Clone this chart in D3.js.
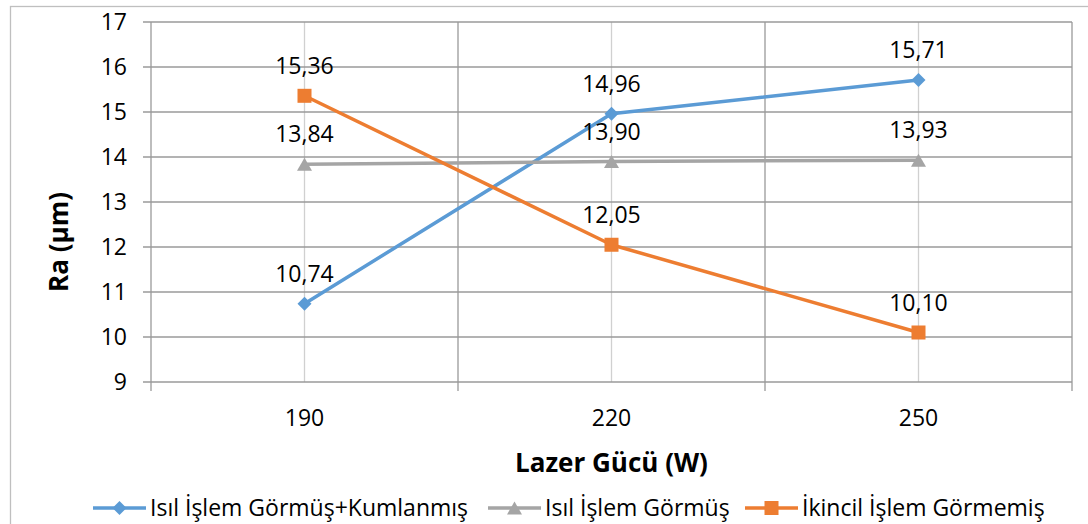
<!DOCTYPE html>
<html>
<head>
<meta charset="utf-8">
<script src="https://cdn.jsdelivr.net/npm/d3@7"></script>
<style>
  body { margin: 0; background: #fff; }
  text { font-family: "Open Sans", "Noto Sans", sans-serif; fill: #000; }
</style>
</head>
<body>
<div id="chart"></div>
<script>
// data
const categories = ["190", "220", "250"];
const seriesNames = ["Isıl İşlem Görmüş+Kumlanmış", "Isıl İşlem Görmüş", "İkincil İşlem Görmemiş"];
const kumlanmis = [10.74, 14.96, 15.71];
const islemGormus = [13.84, 13.90, 13.93];
const islemGormemis = [15.36, 12.05, 10.10];
const yTicks = [9, 10, 11, 12, 13, 14, 15, 16, 17];

const series = [
    { name: seriesNames[0], values: kumlanmis, color: "#5B9BD5", marker: "diamond" },
    { name: seriesNames[1], values: islemGormus, color: "#A5A5A5", marker: "triangle" },
    { name: seriesNames[2], values: islemGormemis, color: "#ED7D31", marker: "square" }
];

const W = 1088, H = 524;
const margin = { top: 22, right: 16, bottom: 142, left: 151 };
const width = W - margin.left - margin.right;
const height = H - margin.top - margin.bottom;

const svg = d3.select("#chart").append("svg")
    .attr("width", W)
    .attr("height", H);

// outer frame
svg.append("rect")
    .attr("x", 10.5).attr("y", 6.5)
    .attr("width", W).attr("height", H)
    .attr("fill", "none")
    .attr("stroke", "#bfbfbf")
    .attr("stroke-width", 1.3);

const g = svg.append("g").attr("transform", `translate(${margin.left},${margin.top})`);

const x = d3.scaleBand().domain(categories).range([0, width]);
const y = d3.scaleLinear().domain([9, 17]).range([height, 0]);

// light lines through category centres
g.selectAll(".cline")
    .data(categories)
    .enter().append("line")
    .attr("x1", d => x(d) + x.bandwidth() / 2)
    .attr("x2", d => x(d) + x.bandwidth() / 2)
    .attr("y1", 0).attr("y2", height)
    .attr("stroke", "#d0d0d0")
    .attr("stroke-width", 1.3);

// horizontal grid
g.selectAll(".hgrid")
    .data(yTicks)
    .enter().append("line")
    .attr("x1", -8).attr("x2", width)
    .attr("y1", d => y(d)).attr("y2", d => y(d))
    .attr("stroke", "#9a9a9a")
    .attr("stroke-width", 1.3);

// vertical grid at band edges (with tick below axis)
const edges = categories.map(c => x(c)).concat([width]);
g.selectAll(".vgrid")
    .data(edges)
    .enter().append("line")
    .attr("x1", d => d).attr("x2", d => d)
    .attr("y1", 0).attr("y2", height + 9)
    .attr("stroke", "#9a9a9a")
    .attr("stroke-width", 1.3);

// y tick labels
g.selectAll(".ylab")
    .data(yTicks)
    .enter().append("text")
    .attr("x", -24)
    .attr("y", d => y(d))
    .attr("dy", "0.36em")
    .attr("text-anchor", "end")
    .style("font-size", "23px")
    .text(d => d);

// x tick labels
g.selectAll(".xlab")
    .data(categories)
    .enter().append("text")
    .attr("x", d => x(d) + x.bandwidth() / 2)
    .attr("y", height + 44)
    .attr("text-anchor", "middle")
    .style("font-size", "23px")
    .text(d => d);

// axis titles
g.append("text")
    .attr("x", width / 2)
    .attr("y", height + 90)
    .attr("text-anchor", "middle")
    .style("font-size", "26px")
    .style("font-weight", "bold")
    .text("Lazer Gücü (W)");

svg.append("text")
    .attr("transform", "rotate(-90)")
    .attr("x", -242)
    .attr("y", 68)
    .attr("text-anchor", "middle")
    .style("font-size", "26px")
    .style("font-weight", "bold")
    .text("Ra (µm)");

// markers
function drawMarker(sel, type, color, cx, cy) {
    if (type === "diamond") {
        sel.append("path")
            .attr("d", `M${cx},${cy - 7}L${cx + 7},${cy}L${cx},${cy + 7}L${cx - 7},${cy}Z`)
            .attr("fill", color);
    } else if (type === "triangle") {
        sel.append("path")
            .attr("d", `M${cx},${cy - 6.5}L${cx + 7.5},${cy + 6.5}L${cx - 7.5},${cy + 6.5}Z`)
            .attr("fill", color);
    } else {
        sel.append("rect")
            .attr("x", cx - 7).attr("y", cy - 7)
            .attr("width", 14).attr("height", 14)
            .attr("fill", color);
    }
}

const line = d3.line()
    .x((d, i) => x(categories[i]) + x.bandwidth() / 2)
    .y(d => y(d));

series.forEach(s => {
    g.append("path")
        .datum(s.values)
        .attr("fill", "none")
        .attr("stroke", s.color)
        .attr("stroke-width", 3.5)
        .attr("stroke-linejoin", "round")
        .attr("d", line);
    s.values.forEach((v, i) => {
        drawMarker(g, s.marker, s.color, x(categories[i]) + x.bandwidth() / 2, y(v));
    });
});

// data labels
series.forEach(s => {
    g.selectAll(null)
        .data(s.values)
        .enter().append("text")
        .attr("x", (d, i) => x(categories[i]) + x.bandwidth() / 2)
        .attr("y", d => y(d) - 22)
        .attr("text-anchor", "middle")
        .style("font-size", "23px")
        .text(d => d.toFixed(2).replace(".", ","));
});

// legend
const legendX = [93, 488, 745];
const legendY = 508;
series.forEach((s, i) => {
    const lg = svg.append("g");
    lg.append("line")
        .attr("x1", legendX[i]).attr("x2", legendX[i] + 53)
        .attr("y1", legendY).attr("y2", legendY)
        .attr("stroke", s.color)
        .attr("stroke-width", 3.5);
    drawMarker(lg, s.marker, s.color, legendX[i] + 26.5, legendY);
    lg.append("text")
        .attr("x", legendX[i] + 57)
        .attr("y", legendY)
        .attr("dy", "0.36em")
        .style("font-size", "23px")
        .text(s.name);
});
</script>
</body>
</html>
